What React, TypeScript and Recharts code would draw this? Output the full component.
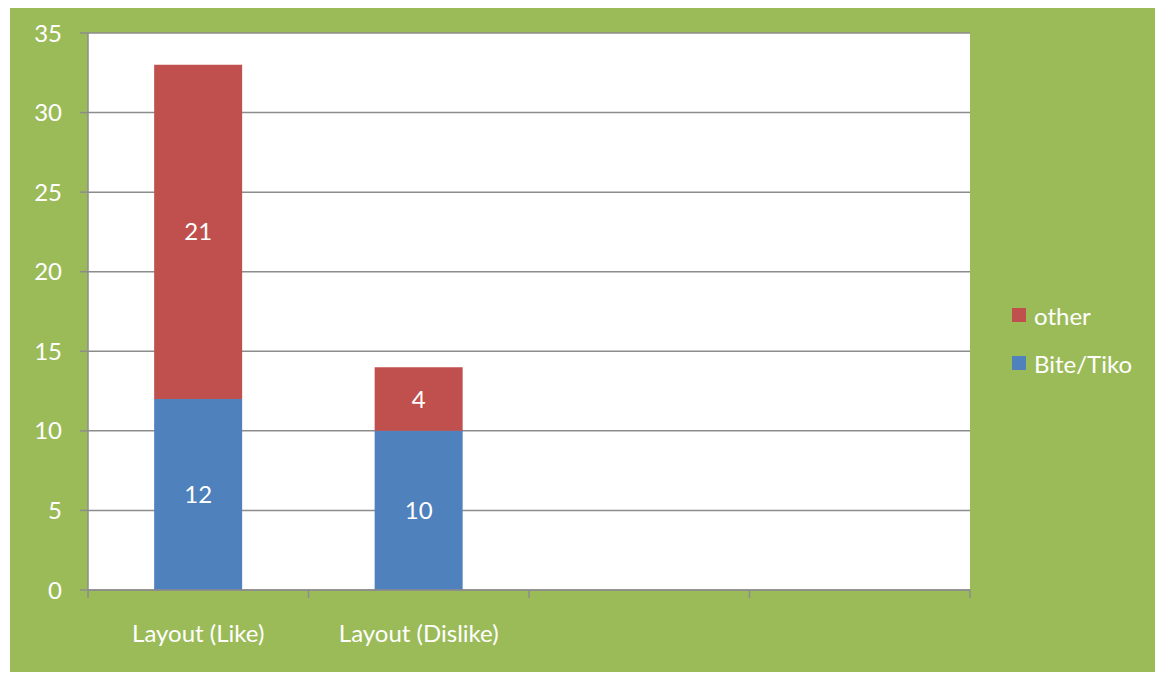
import React from 'react';
import { BarChart, Bar, XAxis, YAxis, CartesianGrid, Legend, LabelList } from 'recharts';

const categories = ['Layout (Like)', 'Layout (Dislike)', '', ''];
const biteTiko = [12, 10, null, null];
const other = [21, 4, null, null];
const yTicks = [0, 5, 10, 15, 20, 25, 30, 35];

const data = categories.map((c, i) => ({ name: c, bite: biteTiko[i], other: other[i] }));

const GREEN = '#9BBB59';
const BLUE = '#4F81BD';
const RED = '#C0504D';
const GRAY = '#8C8C8C';
const FONT = 'Lato, "Open Sans", sans-serif';
const FS = 24;
const TICK_SIZE = 8;
const TICK_MARGIN = 27;

const legendItems = [
  { label: 'other', color: RED },
  { label: 'Bite/Tiko', color: BLUE },
];

const LegendContent = () => (
  <div style={{ fontFamily: FONT, fontSize: FS, color: '#fff' }}>
    {legendItems.map((it) => (
      <div key={it.label} style={{ display: 'flex', alignItems: 'center', height: 48 }}>
        <span style={{ display: 'inline-block', width: 14, height: 14, background: it.color, marginRight: 8 }} />
        <span>{it.label}</span>
      </div>
    ))}
  </div>
);

const CategoryTick = (props: any) => {
  const { x, y, payload, index, visibleTicksCount } = props;
  const half = payload && payload.offset ? payload.offset : 0;
  const y1 = y - TICK_MARGIN - TICK_SIZE;
  const y2 = y - TICK_MARGIN;
  const isLast = index === visibleTicksCount - 1;
  return (
    <g>
      <line x1={x - half} x2={x - half} y1={y1} y2={y2} stroke={GRAY} strokeWidth={1.5} />
      {isLast && <line x1={x + half} x2={x + half} y1={y1} y2={y2} stroke={GRAY} strokeWidth={1.5} />}
      <text x={x} y={y} dy="0.71em" textAnchor="middle" fill="#fff" fontSize={FS} fontFamily={FONT}>
        {payload.value}
      </text>
    </g>
  );
};

export default function App() {
  return (
    <div style={{ position: 'absolute', left: 10, top: 8, width: 1145, height: 664, background: GREEN }}>
      <BarChart
        width={1145}
        height={664}
        data={data}
        margin={{ top: 25, right: 35, left: 18, bottom: 52 }}
        barCategoryGap="30%"
      >
        <CartesianGrid horizontal vertical={false} stroke={GRAY} strokeWidth={1.5} fill="#fff" />
        <XAxis
          dataKey="name"
          height={30}
          axisLine={{ stroke: GRAY, strokeWidth: 1.5 }}
          tickLine={false}
          tickSize={TICK_SIZE}
          tickMargin={TICK_MARGIN}
          tick={<CategoryTick />}
          interval={0}
        />
        <YAxis
          width={60}
          domain={[0, 35]}
          ticks={yTicks}
          axisLine={{ stroke: GRAY, strokeWidth: 1.5 }}
          tickLine={{ stroke: GRAY, strokeWidth: 1.5 }}
          tickSize={8}
          tickMargin={18}
          tick={{ fill: '#fff', fontSize: FS, fontFamily: FONT }}
        />
        <Legend
          layout="vertical"
          align="right"
          verticalAlign="middle"
          content={<LegendContent />}
          wrapperStyle={{ position: 'absolute', left: 1002, top: 283, width: 150 }}
        />
        <Bar dataKey="bite" name="Bite/Tiko" stackId="a" fill={BLUE} isAnimationActive={false}>
          <LabelList dataKey="bite" position="center" fill="#fff" fontSize={FS} fontFamily={FONT} />
        </Bar>
        <Bar dataKey="other" name="other" stackId="a" fill={RED} isAnimationActive={false}>
          <LabelList dataKey="other" position="center" fill="#fff" fontSize={FS} fontFamily={FONT} />
        </Bar>
      </BarChart>
    </div>
  );
}
